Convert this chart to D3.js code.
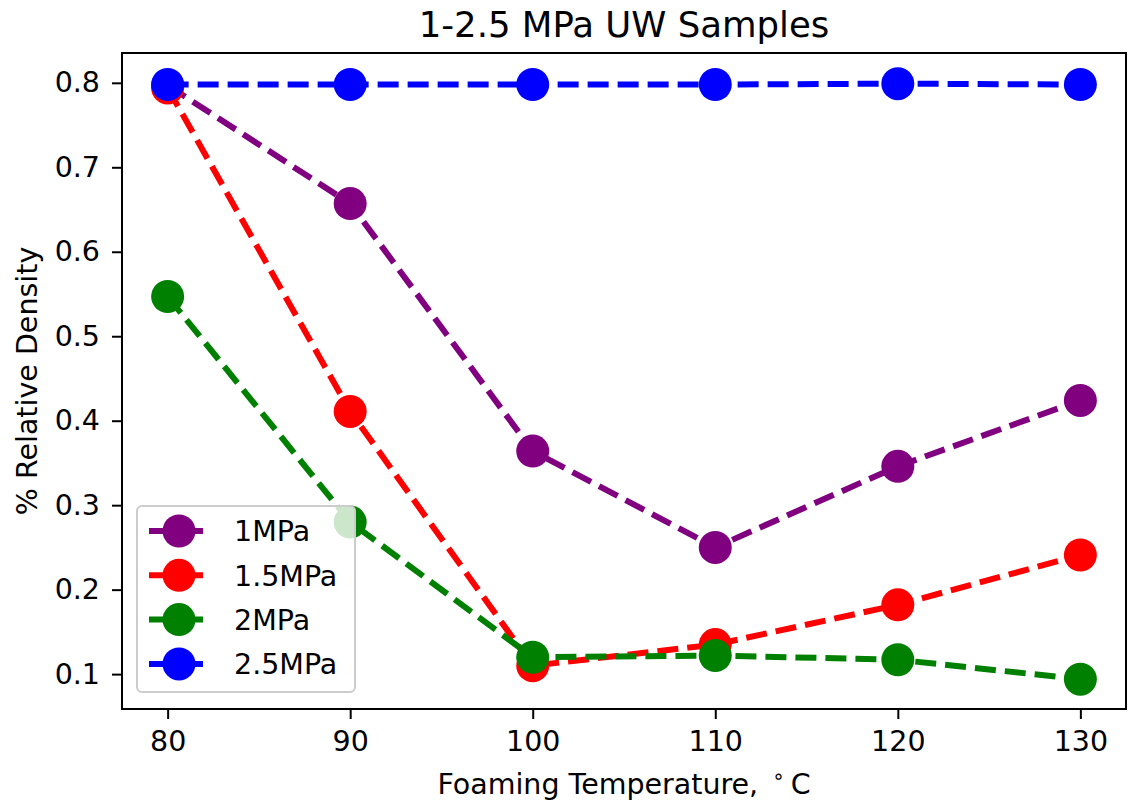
<!DOCTYPE html>
<html>
<head>
<meta charset="utf-8">
<script src="https://cdn.jsdelivr.net/npm/d3@7"></script>
<style>
  body { margin: 0; background: #fff; }
  svg { display: block; font-family: "DejaVu Sans", sans-serif; }
</style>
</head>
<body>
<div id="chart"></div>
<script>
// foaming temperature (deg C)
var temps = [80, 90, 100, 110, 120, 130];
var xTicks = [80, 90, 100, 110, 120, 130];
var yTicks = [0.1, 0.2, 0.3, 0.4, 0.5, 0.6, 0.7, 0.8];

var labels = ['1MPa', '1.5MPa', '2MPa', '2.5MPa'];
var colors = ['purple', 'red', 'green', 'blue'];

var d1 = [0.797, 0.657, 0.364, 0.250, 0.346, 0.424];
var d15 = [0.794, 0.411, 0.110, 0.135, 0.182, 0.241];
var d2 = [0.547, 0.280, 0.120, 0.122, 0.117, 0.094];
var d25 = [0.798, 0.798, 0.798, 0.798, 0.799, 0.798];

var series = [d1, d15, d2, d25];

var width = 1128, height = 805;
var m = { left: 122, right: 2, top: 53, bottom: 96 };
var fs = 28.5;

var svg = d3.select('#chart').append('svg')
    .attr('width', width)
    .attr('height', height);

var x = d3.scaleLinear().domain([77.5, 132.5]).range([m.left, width - m.right]);
var y = d3.scaleLinear().domain([0.0587, 0.8353]).range([height - m.bottom, m.top]);

var line = d3.line()
    .x(function(d, i) { return x(temps[i]); })
    .y(function(d) { return y(d); });

var plot = svg.append('g');

series.forEach(function(s, k) {
    plot.append('path')
        .attr('d', line(s))
        .attr('fill', 'none')
        .attr('stroke', colors[k])
        .attr('stroke-width', 6)
        .attr('stroke-dasharray', '21,9');
    plot.selectAll('.m' + k)
        .data(s)
        .enter().append('circle')
        .attr('cx', function(d, i) { return x(temps[i]); })
        .attr('cy', function(d) { return y(d); })
        .attr('r', 16.5)
        .attr('fill', colors[k]);
});

// axes
var xAxis = d3.axisBottom(x).tickValues(xTicks).tickSize(10).tickPadding(12)
    .tickFormat(d3.format('d'));
var yAxis = d3.axisLeft(y).tickValues(yTicks).tickSize(10).tickPadding(12)
    .tickFormat(d3.format('.1f'));

var gx = svg.append('g')
    .attr('transform', 'translate(0,' + (height - m.bottom) + ')')
    .call(xAxis);
var gy = svg.append('g')
    .attr('transform', 'translate(' + m.left + ',0)')
    .call(yAxis);
[gx, gy].forEach(function(g) {
    g.attr('font-size', fs).attr('font-family', '"DejaVu Sans", sans-serif');
    g.select('.domain').remove();
    g.selectAll('line').attr('stroke', '#000').attr('stroke-width', 2);
    g.selectAll('text').attr('fill', '#000');
});

// frame
svg.append('rect')
    .attr('x', m.left)
    .attr('y', m.top)
    .attr('width', width - m.right - m.left)
    .attr('height', height - m.bottom - m.top)
    .attr('fill', 'none')
    .attr('stroke', '#000')
    .attr('stroke-width', 2);

// legend
var lg = svg.append('g').attr('transform', 'translate(137,506)');
lg.append('rect')
    .attr('width', 218)
    .attr('height', 186)
    .attr('rx', 5)
    .attr('fill', 'rgba(255,255,255,0.8)')
    .attr('stroke', '#ccc')
    .attr('stroke-width', 2);
labels.forEach(function(l, k) {
    var row = lg.append('g').attr('transform', 'translate(0,' + (25 + k * 44.3) + ')');
    row.append('line')
        .attr('x1', 12).attr('x2', 66)
        .attr('stroke', colors[k])
        .attr('stroke-width', 6);
    row.append('circle')
        .attr('cx', 42)
        .attr('r', 16.5)
        .attr('fill', colors[k]);
    row.append('text')
        .attr('x', 97)
        .attr('dy', '0.36em')
        .attr('font-size', fs)
        .text(l);
});

// title and axis labels
svg.append('text')
    .attr('x', (m.left + width - m.right) / 2)
    .attr('y', 37)
    .attr('text-anchor', 'middle')
    .attr('font-size', 35.5)
    .text('1-2.5 MPa UW Samples');

var xl = svg.append('text')
    .attr('x', (m.left + width - m.right) / 2)
    .attr('y', 794)
    .attr('text-anchor', 'middle')
    .attr('font-size', fs);
xl.append('tspan').text('Foaming Temperature,');
xl.append('tspan').attr('dx', 14).attr('dy', -11).attr('font-size', 20).text('\u2218');
xl.append('tspan').attr('dx', 6).attr('dy', 11).text('C');

svg.append('text')
    .attr('transform', 'translate(37,' + ((m.top + height - m.bottom) / 2) + ') rotate(-90)')
    .attr('text-anchor', 'middle')
    .attr('font-size', fs)
    .text('% Relative Density');
</script>
</body>
</html>
